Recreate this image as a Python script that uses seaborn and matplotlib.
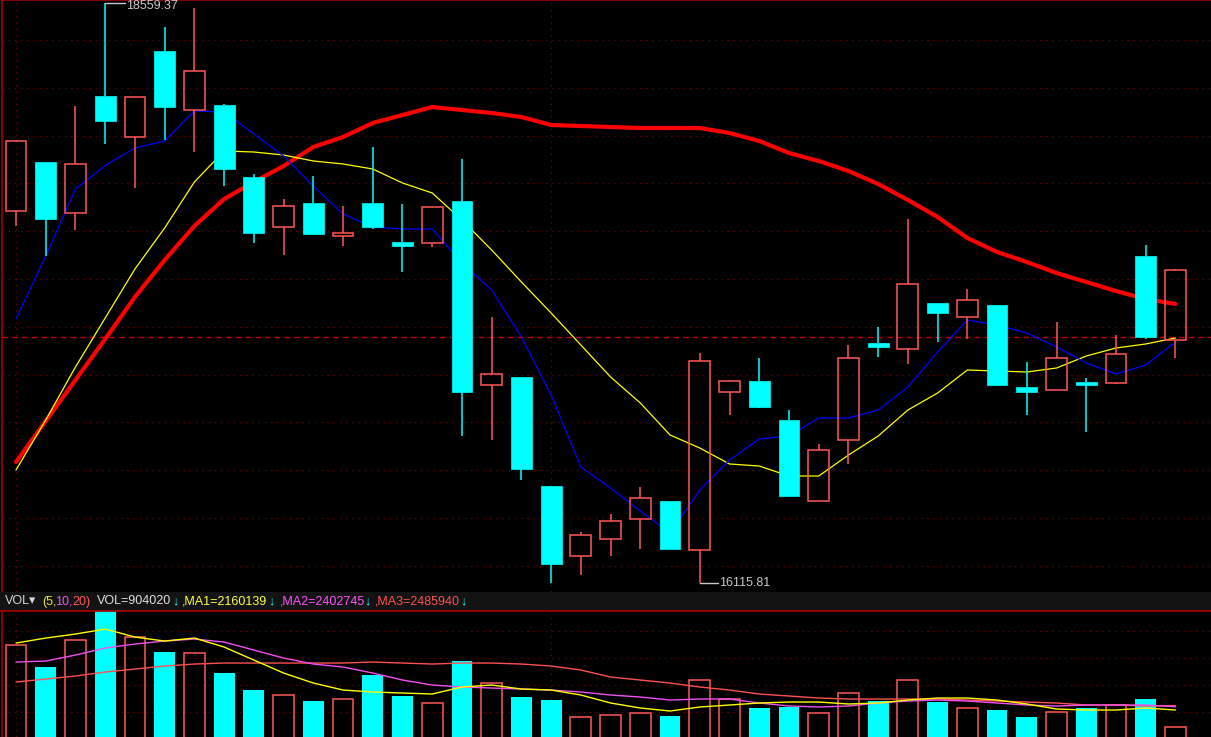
import numpy as np
import matplotlib
matplotlib.use('Agg')
import matplotlib.pyplot as plt
import seaborn as sns
from matplotlib.patches import Rectangle

# daily candles (index points)
opens = [17683.6, 17889.9, 17676.9, 18167.7, 17995.1, 18357.2, 18110.9, 18129.8, 17826.7, 17616.2,
         17717.3, 17580.0, 17717.3, 17553.1, 17546.8, 17725.7, 16949.4, 16984.7, 16525.8, 16233.2,
         16304.4, 16386.9, 16462.7, 16256.4, 16921.6, 16967.9, 16803.7, 16464.4, 16719.5, 17127.9,
         17102.6, 17296.3, 17236.1, 17287.8, 16941.4, 16930.0, 16962.0, 16958.0, 17494.1, 17140.5]
highs = [17982.0, 17891.5, 18125.6, 18559.37, 18165.0, 18458.2, 18538.2, 18134.0, 17839.4, 17734.1,
         17830.9, 17704.6, 17953.0, 17713.1, 17702.0, 17902.5, 17237.3, 16986.0, 16527.0, 16332.2,
         16409.2, 16521.6, 16464.0, 17085.8, 16972.0, 17064.7, 16845.8, 16702.7, 17119.4, 17195.2,
         17649.9, 17298.0, 17355.2, 17289.0, 17047.9, 17216.3, 16980.5, 17161.5, 17540.4, 17439.0]
lows = [17620.4, 17494.1, 17603.6, 17965.7, 17780.4, 17982.5, 17932.0, 17790.9, 17548.9, 17498.3,
        17585.0, 17536.2, 17607.8, 17426.8, 17534.1, 16736.3, 16719.5, 16551.1, 16119.2, 16151.1,
        16231.1, 16260.6, 16260.0, 16115.81, 16826.0, 16854.2, 16483.5, 16463.0, 16619.7, 17069.8,
        17039.5, 17133.3, 17146.0, 16951.0, 16826.0, 16928.5, 16754.4, 16956.5, 17146.0, 17066.8]
closes = [17978.3, 17649.9, 17879.4, 18062.5, 18163.5, 18123.5, 18273.0, 17862.1, 17592.7, 17704.6,
          17586.8, 17591.0, 17616.2, 17536.2, 17700.4, 16921.6, 16995.3, 16599.1, 16197.5, 16319.5,
          16380.6, 16475.3, 16261.9, 17054.2, 16970.0, 16858.4, 16485.0, 16677.4, 17066.8, 17112.7,
          17374.2, 17255.4, 17310.6, 16952.7, 16922.4, 17064.7, 16952.7, 17079.5, 17153.1, 17437.3]

# price moving averages
ma5 = [17228.9, 17494.1, 17776.2, 17874.7, 17948.8, 17978.3, 18104.6, 18100.4, 18007.8, 17915.1,
       17788.8, 17671.0, 17616.2, 17607.8, 17607.8, 17464.7, 17351.0, 17153.1, 16908.9, 16605.8,
       16517.4, 16420.6, 16328.0, 16509.0, 16635.3, 16723.7, 16736.3, 16812.1, 16812.1, 16845.8,
       16942.6, 17090.0, 17224.7, 17203.6, 17170.0, 17111.0, 17043.7, 16997.4, 17035.2, 17132.1]
ma10 = [16593.2, 16803.7, 17026.8, 17233.1, 17439.4, 17612.0, 17805.7, 17936.2, 17932.0, 17919.3,
        17894.1, 17881.5, 17860.4, 17801.5, 17759.4, 17645.7, 17519.4, 17384.7, 17254.2, 17119.4,
        16984.7, 16875.3, 16740.5, 16685.8, 16618.5, 16610.0, 16567.9, 16567.9, 16656.3, 16736.3,
        16845.8, 16917.4, 17014.2, 17010.0, 17005.8, 17022.6, 17073.1, 17106.8, 17123.7, 17148.9]
ma20 = [16626.9, 16799.5, 16972.1, 17144.7, 17321.5, 17477.3, 17620.4, 17734.1, 17805.7, 17873.0,
        17953.0, 17995.1, 18054.1, 18087.7, 18121.4, 18108.8, 18096.2, 18079.3, 18045.6, 18041.4,
        18037.2, 18033.0, 18033.0, 18033.0, 18012.0, 17978.3, 17927.8, 17894.1, 17852.0, 17797.3,
        17729.9, 17658.3, 17569.9, 17511.0, 17468.9, 17422.6, 17384.7, 17346.8, 17313.1, 17292.1]

# volume and its moving averages
volumes = [6962000, 5336000, 7332000, 9475000, 7554000, 6445000, 6371000, 4893000, 3636000, 3267000,
           2823000, 2971000, 4745000, 3193000, 2676000, 5780000, 4154000, 3119000, 2897000, 1641000,
           1789000, 1936000, 1715000, 4375000, 2971000, 2306000, 2380000, 1936000, 3415000, 2823000,
           4375000, 2749000, 2306000, 2158000, 1641000, 2010000, 2306000, 2528000, 2971000, 904020]
vol_ma1 = [7110000, 7480000, 7775000, 8145000, 7554000, 7258000, 7480000, 6815000, 5854000, 4893000,
           4154000, 3636000, 3489000, 3415000, 3341000, 3858000, 4006000, 3710000, 3636000, 3267000,
           2676000, 2306000, 2084000, 2380000, 2528000, 2676000, 2749000, 2749000, 2602000, 2676000,
           2897000, 3045000, 3045000, 2897000, 2602000, 2232000, 2158000, 2158000, 2306000, 2160139]
vol_ma2 = [5706000, 5780000, 6223000, 6741000, 7036000, 7258000, 7406000, 7184000, 6593000, 6001000,
           5558000, 5336000, 4893000, 4375000, 4006000, 3858000, 3784000, 3710000, 3636000, 3489000,
           3267000, 3119000, 2897000, 2971000, 2971000, 2676000, 2454000, 2380000, 2454000, 2676000,
           2823000, 2897000, 2823000, 2676000, 2528000, 2454000, 2528000, 2528000, 2528000, 2402745]
vol_ma3 = [4228000, 4449000, 4671000, 4967000, 5188000, 5410000, 5558000, 5632000, 5632000, 5632000,
           5632000, 5632000, 5706000, 5632000, 5558000, 5632000, 5632000, 5558000, 5410000, 5115000,
           4597000, 4375000, 4154000, 3858000, 3636000, 3341000, 3193000, 3045000, 2971000, 2971000,
           2971000, 2971000, 2897000, 2823000, 2749000, 2676000, 2528000, 2528000, 2454000, 2485940]

high_label = '18559.37'
low_label = '16115.81'

sns.set_style('dark', {'axes.facecolor': 'black', 'figure.facecolor': 'black'})
plt.rcParams['font.family'] = ['Liberation Sans', 'DejaVu Sans']

UP = '#ff5757'
DOWN = '#00ffff'
AXIS_RED = '#a00000'
GRID_RED = '#700000'

W, H = 1211, 737
PITCH = 29.73   # px between candles
X0 = 16         # px of first candle

fig = plt.figure(figsize=(W / 100, H / 100), dpi=100)
fig.patch.set_facecolor('black')


def axes_px(left, top, right, bottom):
    return fig.add_axes([left / W, 1 - bottom / H, (right - left) / W, (bottom - top) / H])


ax = axes_px(2, 0, W, 592)
hdr = axes_px(0, 592, W, 611)
vax = axes_px(2, 611, W, H)

n = len(opens)
idx = np.arange(n)
xlim = (-(X0 - 2) / PITCH, (W - X0) / PITCH)

# ---- price panel ----
YTOP, YBOT = 18571.9, 16079.6
ax.set_xlim(*xlim)
ax.set_ylim(YBOT, YTOP)

grid_px = 40 + 47.8 * np.arange(12)
for py in grid_px:
    ax.axhline(YTOP - py / 592 * (YTOP - YBOT), color=GRID_RED, lw=0.9, ls=(0, (1, 4)), zorder=1)
for xi in (0, 18):
    ax.axvline(xi, color=GRID_RED, lw=0.9, ls=(0, (1, 4)), zorder=1)
    vax.axvline(xi, color=GRID_RED, lw=0.9, ls=(0, (1, 4)), zorder=1)

ax.axhline(closes[-2], color='#c00000', lw=1, ls=(0, (4, 3)), zorder=1)

sns.lineplot(x=idx, y=ma20, color='#ff0000', linewidth=3, ax=ax, legend=False, zorder=2)
sns.lineplot(x=idx, y=ma10, color='#ffff00', linewidth=0.9, ax=ax, legend=False, zorder=2)
sns.lineplot(x=idx, y=ma5, color='#0000ff', linewidth=0.9, ax=ax, legend=False, zorder=2)

bw = 0.7
for i in idx:
    o, h, l, c = opens[i], highs[i], lows[i], closes[i]
    up = c >= o
    col = UP if up else DOWN
    top, bot = max(o, c), min(o, c)
    if h > top:
        ax.vlines(i, top, h, color=col, lw=1.1, zorder=3)
    if l < bot:
        ax.vlines(i, l, bot, color=col, lw=1.1, zorder=3)
    body = max(top - bot, 9)
    if up:
        rect = Rectangle((i - bw / 2, bot), bw, body, facecolor='none', edgecolor=UP, lw=1.1, zorder=4)
    else:
        rect = Rectangle((i - bw / 2, bot), bw, body, facecolor=DOWN, edgecolor=DOWN, lw=0.5, zorder=4)
    ax.add_patch(rect)

# high / low markers
hi = int(np.argmax(highs))
lo = int(np.argmin(lows))
ax.plot([hi, hi + 0.67], [highs[hi], highs[hi]], color='#c8c8c8', lw=1, zorder=5)
ax.annotate(high_label, (hi + 0.69, highs[hi]), xytext=(0, -2), textcoords='offset points',
            color='#c8c8c8', fontsize=9, va='center', ha='left', zorder=5)
ax.plot([lo, lo + 0.6], [lows[lo], lows[lo]], color='#c8c8c8', lw=1, zorder=5)
ax.text(lo + 0.66, lows[lo], low_label, color='#c8c8c8', fontsize=9, va='center', ha='left', zorder=5)

# ---- volume panel ----
VTOP, VBOT = 9480000, 162600
vax.set_xlim(*xlim)
vax.set_ylim(VBOT, VTOP)
for py in (631, 658, 685, 712):
    vax.axhline(VBOT + (H - py) / 126 * (VTOP - VBOT), color=GRID_RED, lw=0.9, ls=(0, (1, 4)), zorder=1)

for i in idx:
    if closes[i] >= opens[i]:
        vax.bar(i, volumes[i], width=bw, facecolor='none', edgecolor=UP, lw=1.1, zorder=2)
    else:
        vax.bar(i, volumes[i], width=bw, color=DOWN, lw=0, zorder=2)

sns.lineplot(x=idx, y=vol_ma3, color='#ff5050', linewidth=1, ax=vax, legend=False, zorder=3)
sns.lineplot(x=idx, y=vol_ma2, color='#f050f0', linewidth=1, ax=vax, legend=False, zorder=3)
sns.lineplot(x=idx, y=vol_ma1, color='#ffff00', linewidth=1, ax=vax, legend=False, zorder=3)

for a in (ax, vax):
    a.set_facecolor('black')
    a.grid(False)
    for s in ('right', 'bottom'):
        a.spines[s].set_visible(False)
    for s in ('left', 'top'):
        a.spines[s].set_visible(True)
        a.spines[s].set_color(AXIS_RED)
        a.spines[s].set_linewidth(1.2)
    a.set_xticks([])
    a.set_xlabel('')
    a.set_ylabel('')
    a.tick_params(axis='y', direction='in', length=4, color=AXIS_RED, labelleft=False)

ax.set_yticks([YTOP - py / 592 * (YTOP - YBOT) for py in grid_px])
vax.set_yticks([VBOT + (H - py) / 126 * (VTOP - VBOT) for py in (631, 658, 685, 712)])

# ---- header strip ----
hdr.set_facecolor('#131313')
hdr.set_xlim(0, W)
hdr.set_ylim(0, 19)
hdr.set_xticks([])
hdr.set_yticks([])
for s in ('left', 'right', 'top'):
    hdr.spines[s].set_visible(False)
hdr.spines['bottom'].set_visible(True)
hdr.spines['bottom'].set_color(AXIS_RED)
hdr.spines['bottom'].set_linewidth(1.5)

pieces = [
    (5, 'VOL\u25be', '#d8d8d8'),
    (42, '(5,', '#e8e040'),
    (55, '10,', '#e858e8'),
    (72, '20)', '#ff5a5a'),
    (97, 'VOL=904020', '#e0e0e0'),
    (172, '\u2193', DOWN),
    (182, ',MA1=2160139', '#ffff40'),
    (268, '\u2193', DOWN),
    (280, ',MA2=2402745', '#ff50ff'),
    (364, '\u2193', DOWN),
    (375, ',MA3=2485940', '#ff5050'),
    (460, '\u2193', DOWN),
]
for px, txt, col in pieces:
    hdr.text(px, 9.5, txt, color=col, fontsize=9, va='center', ha='left')

fig.savefig('out.png', dpi=100, facecolor='black')
